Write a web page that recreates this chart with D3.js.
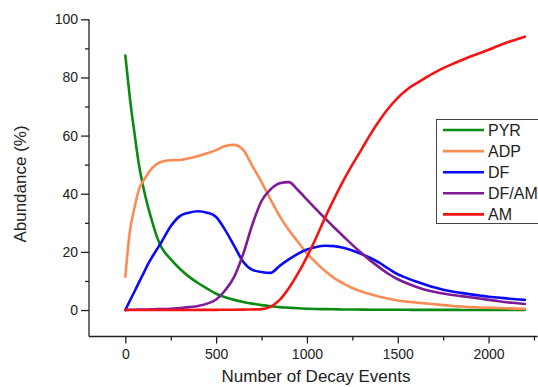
<!DOCTYPE html>
<html>
<head>
<meta charset="utf-8">
<script src="https://cdn.jsdelivr.net/npm/d3@7"></script>
<style>
  html, body { margin: 0; padding: 0; background: #fff; }
  svg { display: block; }
  text { font-family: "Liberation Sans", Arial, sans-serif; fill: #222; }
</style>
</head>
<body>
<svg id="chart" width="538" height="387"></svg>
<script>
// ---- data ----
const events = [0,25,50,75,100,125,150,175,200,250,300,350,400,450,500,550,600,650,700,750,800,850,900,950,1000,1050,1100,1150,1200,1250,1300,1350,1400,1450,1500,1550,1600,1650,1700,1750,1800,1850,1900,1950,2000,2050,2100,2150,2200];

const PYR = [87.5,73,61,50,42,35.5,30,25,21.5,17.5,14.2,11.5,9.3,7.4,5.6,4.4,3.5,2.8,2.2,1.7,1.3,1.0,0.8,0.6,0.45,0.35,0.3,0.25,0.2,0.18,0.15,0.12,0.1,0.1,0.08,0.08,0.06,0.06,0.05,0.05,0.05,0.04,0.04,0.04,0.03,0.03,0.03,0.03,0.03];

const ADP = [11.5,27,35,41.5,44.5,47,49,50.3,51,51.5,51.6,52.2,53,53.9,55,56.4,56.8,55,49.5,44,38,32.3,27.5,23.5,19.5,16.3,13.4,11,9.2,7.6,6.4,5.4,4.6,3.9,3.3,2.9,2.6,2.3,2.0,1.7,1.4,1.2,1.0,0.9,0.8,0.7,0.6,0.5,0.4];

const DF = [0,3.2,6.3,9.5,12.6,15.8,18.5,21,23.5,28.8,32.3,33.5,34,33.5,32,27.5,22,16.5,13.8,13.1,12.8,15.2,17.4,19.3,20.8,21.7,22.1,22,21.4,20.5,19.3,17.9,16.2,14.2,12.3,11,9.8,8.8,7.8,7.0,6.4,5.9,5.4,5.0,4.6,4.3,4.0,3.7,3.5];

const DFAM = [0,0.1,0.1,0.15,0.2,0.2,0.25,0.3,0.3,0.4,0.7,1.0,1.4,2.2,3.6,6.8,11.5,19.5,29.5,37.5,41.5,43.6,44,41.3,38,34.7,31.5,28.4,25.4,22.4,19.6,17,14.6,12.4,10.6,9.2,8.0,7.0,6.3,5.7,5.2,4.8,4.4,4.0,3.5,3.1,2.7,2.4,2.1];

const AM = [0,0,0,0,0,0,0,0,0,0,0,0,0.05,0.05,0.05,0.1,0.1,0.15,0.2,0.3,1.2,3.5,7.5,12.5,18.3,24.8,31.8,38.3,44.4,50,55.2,60.5,65.3,69.5,73,75.8,77.9,79.8,81.6,83.2,84.6,85.9,87.2,88.3,89.5,90.8,92,93,94];

const seriesNames = ["PYR","ADP","DF","DF/AM","AM"];
const seriesValues = [PYR, ADP, DF, DFAM, AM];
const seriesColors = ["#0b8a14","#fb8c55","#0a0af5","#7f1b97","#f51414"];

const xTicks = [0,500,1000,1500,2000];
const yTicks = [0,20,40,60,80,100];
const xMinorTicks = [250,750,1250,1750,2250];
const yMinorTicks = [10,30,50,70,90];

// ---- drawing ----
const svg = d3.select("#chart");
const x = d3.scaleLinear().domain([-200, 2270]).range([89, 537.6]);
const y = d3.scaleLinear().domain([-9.1, 100]).range([336.5, 19.3]);

// axes
const xAxis = d3.axisBottom(x).tickValues(xTicks).tickSize(7).tickPadding(6).tickFormat(d3.format("d"));
const gx = svg.append("g").attr("transform", `translate(0,${y.range()[0]})`).call(xAxis);
gx.select(".domain").attr("d", `M${x.range()[0]},0H${x.range()[1]}`);
const xMinor = d3.axisBottom(x).tickValues(xMinorTicks).tickSize(4).tickFormat("");
const gxm = svg.append("g").attr("transform", `translate(0,${y.range()[0]})`).call(xMinor);
gxm.select(".domain").remove();

const yAxis = d3.axisLeft(y).tickValues(yTicks).tickSize(8).tickPadding(3).tickFormat(d3.format("d"));
const gy = svg.append("g").attr("transform", `translate(${x.range()[0]},0)`).call(yAxis);
gy.select(".domain").attr("d", `M0,${y.range()[1]}V${y.range()[0]}`);
const yMinor = d3.axisLeft(y).tickValues(yMinorTicks).tickSize(4).tickFormat("");
const gym = svg.append("g").attr("transform", `translate(${x.range()[0]},0)`).call(yMinor);
gym.select(".domain").remove();

svg.selectAll(".tick line, .domain").attr("stroke", "#222").attr("stroke-width", 1.3);
svg.selectAll(".tick text").attr("font-size", 14).attr("font-family", "Liberation Sans, Arial, sans-serif").attr("fill", "#222");

// axis titles
svg.append("text").attr("x", 316).attr("y", 382).attr("text-anchor", "middle")
  .attr("font-size", 17).text("Number of Decay Events");
svg.append("text").attr("transform", "translate(26,184) rotate(-90)").attr("text-anchor", "middle")
  .attr("font-size", 17).text("Abundance (%)");

// lines
const line = d3.line().x((d, i) => x(events[i])).y(d => y(d)).curve(d3.curveMonotoneX);
seriesValues.forEach((vals, k) => {
  svg.append("path").datum(vals).attr("d", line)
    .attr("fill", "none").attr("stroke", seriesColors[k]).attr("stroke-width", 2.6)
    .attr("stroke-linejoin", "round").attr("stroke-linecap", "round");
});

// legend
const lg = svg.append("g");
lg.append("rect").attr("x", 436.5).attr("y", 119.5).attr("width", 140).attr("height", 104)
  .attr("fill", "#fff").attr("stroke", "#444").attr("stroke-width", 1);
seriesNames.forEach((name, k) => {
  const cy = 130 + k * 21.1;
  lg.append("line").attr("x1", 443).attr("x2", 484).attr("y1", cy).attr("y2", cy)
    .attr("stroke", seriesColors[k]).attr("stroke-width", 2.6);
  lg.append("text").attr("x", 488).attr("y", cy).attr("dy", "0.36em")
    .attr("font-size", 16).text(name);
});
</script>
</body>
</html>
